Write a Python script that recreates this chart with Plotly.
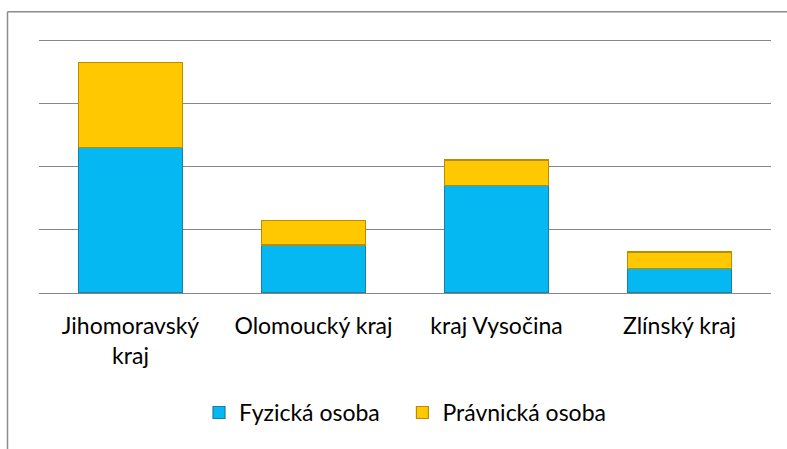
import plotly.graph_objects as go

categories = ["Jihomoravský<br>kraj", "Olomoucký kraj", "kraj Vysočina", "Zlínský kraj"]
fyzicka = [23.1, 7.6, 17.1, 3.9]
pravnicka = [13.5, 3.9, 4.0, 2.6]
series_names = ["Fyzická osoba", "Právnická osoba"]

FONT = "Lato"
W, H = 787, 449
YMAX = 40.6
L, R, B = 39, 771, 292.7
T = B - (B - 41) * YMAX / 40.0

fig = go.Figure()
fig.add_trace(go.Bar(x=categories, y=fyzicka, name=series_names[0] + "\u00a0" * 3,
                     marker=dict(color="#06B8F2", line=dict(color="#1A7EA6", width=1.2))))
fig.add_trace(go.Bar(x=categories, y=pravnicka, name=series_names[1],
                     marker=dict(color="#FFC800", line=dict(color="#B88E00", width=1.2))))

def px_x(x):
    return (x - L) / (R - L)

def px_y(y):
    return (B - y) / (B - T)

fig.update_layout(
    barmode="stack",
    bargap=0.43,
    width=W, height=H,
    margin=dict(l=L, r=W - R, t=T, b=H - B, pad=0),
    paper_bgcolor="white",
    plot_bgcolor="white",
    font=dict(family=FONT, size=23, color="#000000"),
    showlegend=True,
    legend=dict(orientation="h", x=0.5, xanchor="center", y=px_y(412), yanchor="middle",
                font=dict(size=23), itemwidth=30, traceorder="normal"),
    xaxis=dict(showgrid=False, showline=False, ticks="outside", ticklen=12,
               tickcolor="rgba(0,0,0,0)", tickfont=dict(size=23)),
    yaxis=dict(range=[0, YMAX], dtick=10, showgrid=True, gridcolor="#878787", gridwidth=1.4,
               showticklabels=False, zeroline=True, zerolinecolor="#878787", zerolinewidth=1.4,
               showline=False),
    shapes=[
        dict(type="line", xref="paper", yref="paper", x0=px_x(7.5), x1=px_x(800),
             y0=px_y(12), y1=px_y(12), line=dict(color="#8C8C8C", width=1.5)),
        dict(type="line", xref="paper", yref="paper", x0=px_x(7.5), x1=px_x(7.5),
             y0=px_y(12), y1=px_y(460), line=dict(color="#8C8C8C", width=1.5)),
    ],
)

fig.write_html("out.html", config={"displayModeBar": False},
               post_script="document.body.style.margin='0px';")
